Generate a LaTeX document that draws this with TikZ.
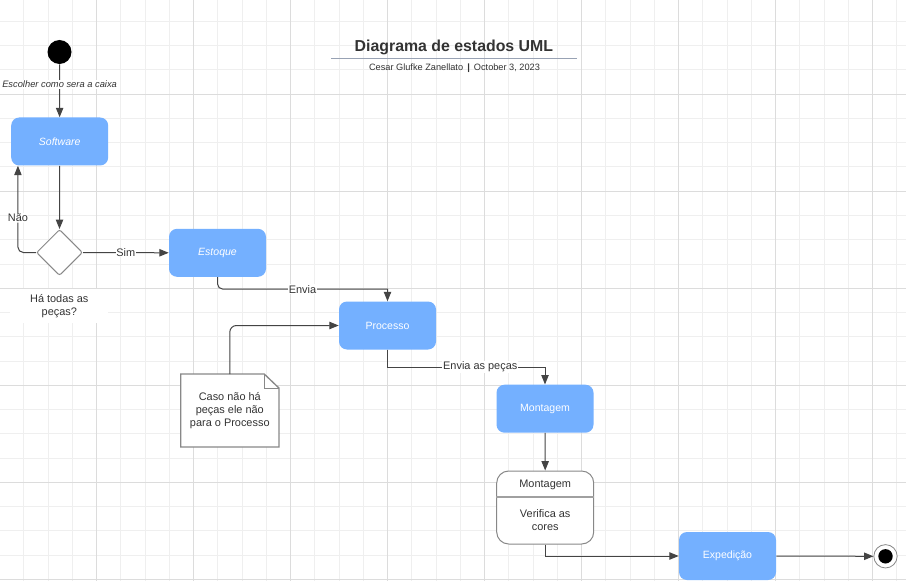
\documentclass[tikz,border=0pt]{standalone}
\usepackage{fontspec}
\setmainfont{Liberation Sans}
\usetikzlibrary{arrows.meta,shapes.geometric,calc}
\definecolor{stblue}{HTML}{74B0FF}
\definecolor{txt}{HTML}{333333}
\definecolor{lnc}{HTML}{444444}
\definecolor{gridmin}{HTML}{EFEFEF}
\definecolor{gridmaj}{HTML}{DCDCDC}
\definecolor{bord}{HTML}{888888}
\definecolor{uline}{HTML}{98A2B4}
\begin{document}
\begin{tikzpicture}[x=0.75pt,y=-0.75pt,
  statebox/.style={rectangle, rounded corners=6pt, fill=stblue, draw=none,
    minimum width=72.75pt, minimum height=36pt, text=white, inner sep=0pt,
    font=\fontsize{7.9}{9.5}\selectfont},
  arr/.style={draw=lnc, line width=0.75pt, -{Triangle[length=7pt,width=5.5pt]}},
  lbl/.style={fill=white, inner sep=0.6pt, text=txt, font=\fontsize{8.2}{9.8}\selectfont},
  plaintext/.style={text=txt, inner sep=0pt, align=center, font=\fontsize{8.2}{9.75}\selectfont},
  startdot/.style={circle, fill=black, draw=none, minimum size=18pt, inner sep=0pt},
  choice/.style={diamond, aspect=1, draw=bord, fill=white, line width=0.75pt,
    minimum width=34.5pt, minimum height=34.5pt, inner sep=0pt, rounded corners=1.5pt},
  notebox/.style={rectangle, draw=none, minimum width=73.3pt, minimum height=54.3pt,
    inner sep=0pt, align=center, text=txt, font=\fontsize{8.2}{9.5}\selectfont},
  compbox/.style={rectangle, rounded corners=9pt, draw=bord, fill=white, line width=0.75pt,
    minimum width=72.75pt, minimum height=54.75pt, inner sep=0pt},
  endouter/.style={circle, draw=bord, fill=white, line width=0.6pt, minimum size=17.5pt, inner sep=0pt},
  endinner/.style={circle, fill=black, draw=none, minimum size=10.8pt, inner sep=0pt}
]
\useasboundingbox (0,0) rectangle (906,581);
\fill[white] (0,0) rectangle (906,581);
% grid
\foreach \i in {0,...,36} \draw[gridmin, line width=0.75pt] ({23.8+24.25*\i},0) -- ({23.8+24.25*\i},581);
\foreach \i in {0,...,23} \draw[gridmin, line width=0.75pt] (0,{21.5+24.25*\i}) -- (906,{21.5+24.25*\i});
\foreach \i in {0,...,8} \draw[gridmaj, line width=0.75pt] ({96.6+97*\i},0) -- ({96.6+97*\i},581);
\foreach \i in {0,...,5} \draw[gridmaj, line width=0.75pt] (0,{94.3+97*\i}) -- (906,{94.3+97*\i});

% title
\node[text=txt, inner sep=0pt, font=\bfseries\fontsize{11.9}{14}\selectfont] (title) at (453.9,47.5) {Diagrama de estados UML};
\draw[uline, line width=0.75pt] (331,58.3) -- (577,58.3);
\node[text=txt, inner sep=0pt, font=\fontsize{6.9}{8}\selectfont] (sub) at (454.5,68) {Cesar Glufke Zanellato \,\textbf{|}\, October 3, 2023};

% nodes
\node[startdot] (start) at (59.5,52) {};
\node[statebox, font=\itshape\fontsize{7.9}{9.5}\selectfont] (sw) at (59.7,141.5) {Software};
\node[choice] (dia) at (59.5,252.5) {};
\node[plaintext, fill=white, minimum width=73.5pt, minimum height=26pt] (q) at (59.3,306) {Há todas as\\peças?};
\node[statebox, font=\itshape\fontsize{7.9}{9.5}\selectfont] (est) at (217.5,252.8) {Estoque};
\node[statebox] (pro) at (387.5,325.5) {Processo};
\node[notebox] (nt) at (229.8,410.5) {Caso não há\\peças ele não\\para o Processo};
\draw[bord, line width=1pt, fill=white]
  (nt.north west) -- ([xshift=-11pt]nt.north east) -- ([yshift=-10.5pt]nt.north east)
  -- (nt.south east) -- (nt.south west) -- cycle;
\draw[bord, line width=0.75pt] ([xshift=-11pt]nt.north east) -- ([xshift=-11pt,yshift=-10.5pt]nt.north east) -- ([yshift=-10.5pt]nt.north east);
\node[notebox] at (nt.center) {Caso não há\\peças ele não\\para o Processo};
\node[statebox] (mon) at (545,408.7) {Montagem};
\node[compbox] (cmp) at (545.2,507.5) {};
\draw[bord!80, line width=1.2pt] ([yshift=-20pt]cmp.north west) -- ([yshift=-20pt]cmp.north east);
\node[plaintext] (cmpt) at (545.2,485) {Montagem};
\node[plaintext] (cmpb) at (545.2,520.5) {Verifica as\\cores};
\node[statebox] (exp) at (727.5,556) {Expedição};
\node[endouter] (endn) at (885.5,556.3) {};
\node[endinner] (endc) at (endn.center) {};

% connectors
\draw[arr] (start) -- node[lbl, pos=0.38, font=\itshape\fontsize{7}{8}\selectfont] {Escolher como sera a caixa} (sw);
\draw[arr] (sw) -- (dia.north);
\draw[arr, rounded corners=4pt] (dia.west) -| node[lbl, pos=0.7] {Não} ([xshift=5.25pt]sw.south west);
\draw[arr] (dia.east) -- node[lbl] {Sim} (est.west);
\coordinate (m1) at ($(est.south)!0.5!(pro.north)$);
\draw[arr] (est.south) [rounded corners=4pt] |- (m1) [sharp corners] -| (pro.north);
\node[lbl] at (m1) {Envia};
\coordinate (m2) at ($(pro.south)!0.5!(mon.north)$);
\draw[arr] (pro.south) |- (m2) -| (mon.north);
\node[lbl] at ([xshift=10.5pt]m2) {Envia as peças};
\draw[arr, rounded corners=5pt] (nt.north) |- (pro.west);
\draw[arr] (mon.south) -- (cmp.north);
\draw[arr] (cmp.south) |- (exp.west);
\draw[arr] (exp.east) -- (endn.west);
\end{tikzpicture}
\end{document}
